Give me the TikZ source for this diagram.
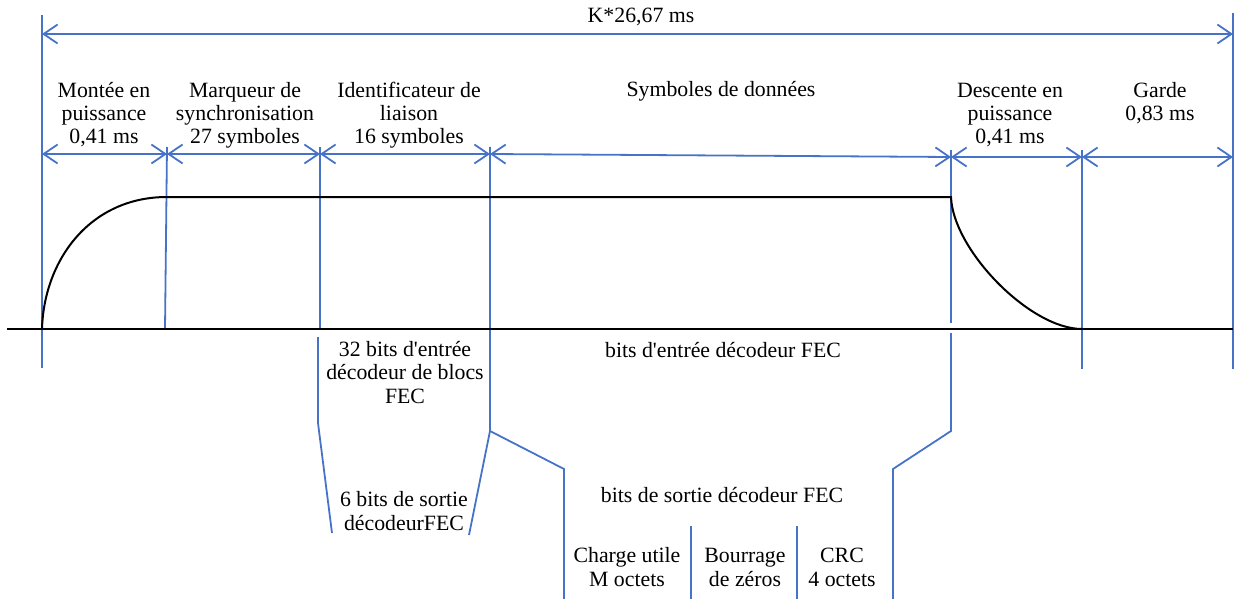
\documentclass[tikz,border=0pt]{standalone}
\usepackage{fontspec}
\setmainfont{Liberation Serif}
\usetikzlibrary{arrows.meta}
\definecolor{tickblue}{RGB}{70,115,200}
\begin{document}
\begin{tikzpicture}[x=1pt,y=-1pt,
  guide/.style={draw=tickblue,line width=1.8pt},
  span/.style={guide,{Straight Barb[length=14pt,width=19pt]}-{Straight Barb[length=14pt,width=19pt]}},
  signal/.style={draw=black,line width=2pt},
  lbl/.style={font=\fontsize{21.8}{23.5}\selectfont,align=center,inner sep=0pt,anchor=base}]
\useasboundingbox (0,0) rectangle (1234,599);

% time marks along the span rows
\coordinate (aT) at (42,34);   \coordinate (gT) at (1233,34);
\coordinate (a) at (42,154);   \coordinate (b) at (167,154);
\coordinate (c) at (320,154);  \coordinate (d) at (490,154);
\coordinate (e1) at (951,157); \coordinate (e) at (951,157);
\coordinate (f) at (1082,157); \coordinate (g) at (1233,157);

% vertical guides
\draw[guide] (42,15) -- (42,368);
\draw[guide] (167,147) -- (165,329);
\draw[guide] (320,147) -- (320,329);
\draw[guide] (318,337) -- (318,423) -- (332,533);
\draw[guide] (490,147) -- (490,431) -- (469,535);
\draw[guide] (490,431) -- (564,469) -- (564,599);
\draw[guide] (951,150) -- (951,323);
\draw[guide] (951,333) -- (951,431) -- (893,469) -- (893,599);
\draw[guide] (1082,150) -- (1082,369);
\draw[guide] (1233,13) -- (1233,369);
\draw[guide] (691,526) -- (691,599);
\draw[guide] (797,526) -- (797,599);

% duration spans
\draw[span] (aT) -- (gT);
\draw[span] (a) -- (b);
\draw[span] (b) -- (c);
\draw[span] (c) -- (d);
\draw[span] (d) -- (e1);
\draw[span] (e) -- (f);
\draw[span] (f) -- (g);

% power envelope and time axis
\draw[signal] (7,329) -- (1233,329);
\draw[signal] (42,329) .. controls (44,260) and (90,197) .. (167,197)
  -- (951,197) .. controls (953,250) and (1030,329) .. (1082,329);

% labels (base anchor sits on the last line)
\node[lbl] (ltot) at (641,23) {K*26,67 ms};
\node[lbl] (lrise) at (104,144) {Montée en\\puissance\\0,41 ms};
\node[lbl] (lsync) at (245,144) {Marqueur de\\synchronisation\\27 symboles};
\node[lbl] (lid) at (409,144) {Identificateur de\\liaison\\16 symboles};
\node[lbl] (ldata) at (721,97) {Symboles de données};
\node[lbl] (lfall) at (1010,144) {Descente en\\puissance\\0,41 ms};
\node[lbl] (lguard) at (1160,121) {Garde\\0,83 ms};
\node[lbl] (lin32) at (405,403) {32 bits d\textquotesingle entrée\\décodeur de blocs\\FEC};
\node[lbl] (lin) at (723,357) {bits d\textquotesingle entrée décodeur FEC};
\node[lbl] (lout6) at (404,530) {6 bits de sortie\\décodeurFEC};
\node[lbl] (lout) at (722,502) {bits de sortie décodeur FEC};
\node[lbl] (lpay) at (627,586) {Charge utile\\M octets};
\node[lbl] (lpad) at (745,586) {Bourrage\\de zéros};
\node[lbl] (lcrc) at (842,586) {CRC\\4 octets};
\end{tikzpicture}
\end{document}
